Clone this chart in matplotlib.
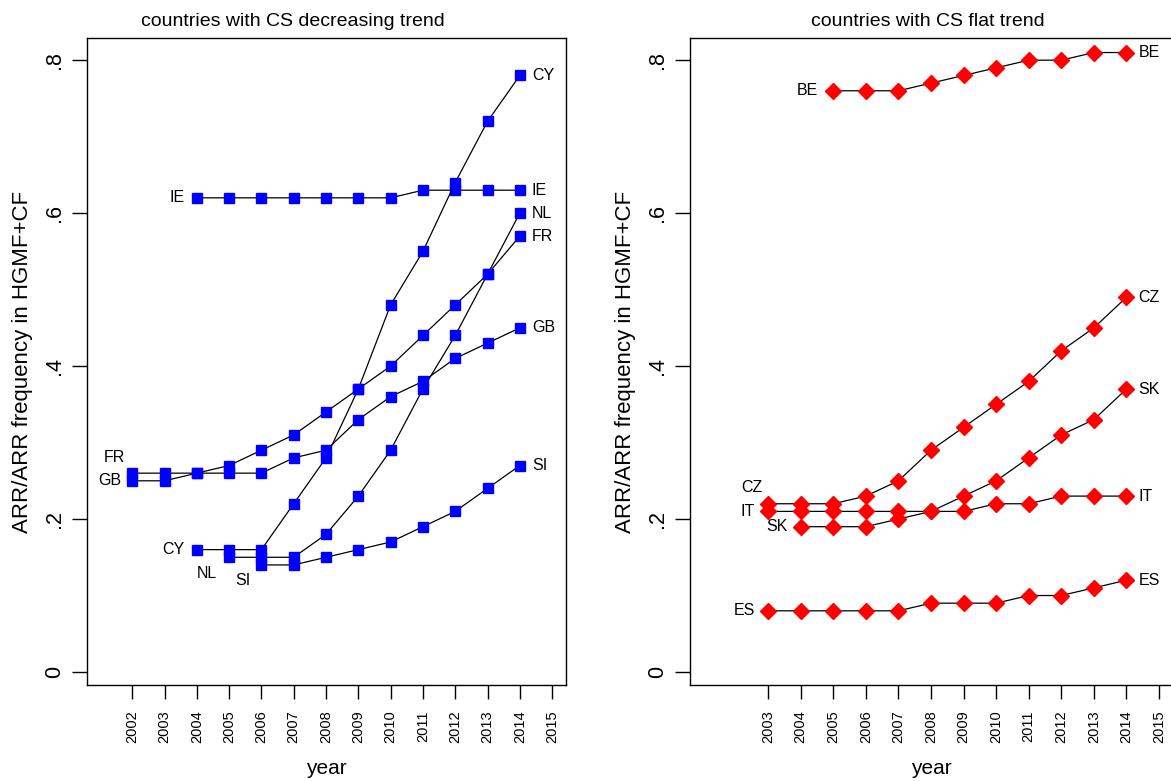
import matplotlib.pyplot as plt

plt.rcParams['font.family'] = ['Liberation Sans', 'DejaVu Sans']

# left panel: countries with decreasing trend
yrs_IE = [2004, 2005, 2006, 2007, 2008, 2009, 2010, 2011, 2012, 2013, 2014]
IE = [.62, .62, .62, .62, .62, .62, .62, .63, .63, .63, .63]
yrs_CY = [2004, 2005, 2006, 2007, 2008, 2009, 2010, 2011, 2012, 2013, 2014]
CY = [.16, .16, .16, .22, .28, .37, .48, .55, .64, .72, .78]
yrs_NL = [2005, 2006, 2007, 2008, 2009, 2010, 2011, 2012, 2013, 2014]
NL = [.15, .15, .15, .18, .23, .29, .37, .44, .52, .60]
yrs_SI = [2006, 2007, 2008, 2009, 2010, 2011, 2012, 2013, 2014]
SI = [.14, .14, .15, .16, .17, .19, .21, .24, .27]
yrs_FR = list(range(2002, 2015))
FR = [.26, .26, .26, .27, .29, .31, .34, .37, .40, .44, .48, .52, .57]
yrs_GB = list(range(2002, 2015))
GB = [.25, .25, .26, .26, .26, .28, .29, .33, .36, .38, .41, .43, .45]

# right panel: countries with flat trend
yrs_BE = list(range(2005, 2015))
BE = [.76, .76, .76, .77, .78, .79, .80, .80, .81, .81]
yrs_CZ = list(range(2003, 2015))
CZ = [.22, .22, .22, .23, .25, .29, .32, .35, .38, .42, .45, .49]
yrs_IT = list(range(2003, 2015))
IT = [.21, .21, .21, .21, .21, .21, .21, .22, .22, .23, .23, .23]
yrs_SK = list(range(2004, 2015))
SK = [.19, .19, .19, .20, .21, .23, .25, .28, .31, .33, .37]
yrs_ES = list(range(2003, 2015))
ES = [.08, .08, .08, .08, .08, .09, .09, .09, .10, .10, .11, .12]

yticks = [0, .2, .4, .6, .8]
ytick_labels = ['0', '.2', '.4', '.6', '.8']

# series: name, years, values, offset of first label (pixels)
left_series = [
    ('IE', yrs_IE, IE, (-12, 0)),
    ('CY', yrs_CY, CY, (-12, 0)),
    ('NL', yrs_NL, NL, (-12, -16)),
    ('SI', yrs_SI, SI, (-11, -16)),
    ('FR', yrs_FR, FR, (-7, 16)),
    ('GB', yrs_GB, GB, (-11, 0)),
]
right_series = [
    ('BE', yrs_BE, BE, (-15, 0)),
    ('CZ', yrs_CZ, CZ, (-6, 16)),
    ('IT', yrs_IT, IT, (-13, 0)),
    ('SK', yrs_SK, SK, (-13, 0)),
    ('ES', yrs_ES, ES, (-13, 0)),
]

W, H = 1171, 781
fig = plt.figure(figsize=(W / 100, H / 100), dpi=100)
ax1 = fig.add_axes([87 / W, (H - 685) / H, 479 / W, 647 / H])
ax2 = fig.add_axes([690 / W, (H - 685) / H, 483 / W, 647 / H])


def draw(ax, series, marker, color, ms, xticks, title, title_x):
    for name, x, y, off in series:
        ax.plot(x, y, color='black', lw=0.9, marker=marker, ms=ms,
                mfc=color, mec=color, zorder=3)
        ax.annotate(name, (x[0], y[0]), xytext=off, textcoords='offset pixels',
                    ha='right', va='center', fontsize=11.5)
        ax.annotate(name, (x[-1], y[-1]), xytext=(12, 0), textcoords='offset pixels',
                    ha='left', va='center', fontsize=11.5)
    ax.set_xlim(2000.6, 2015.43)
    ax.set_ylim(-0.017, 0.829)
    ax.set_xticks(xticks)
    ax.set_xticklabels([str(v) for v in xticks], rotation=90, fontsize=10.5)
    ax.set_yticks(yticks)
    ax.set_yticklabels(ytick_labels, rotation=90, va='center', fontsize=15.5)
    ax.tick_params(axis='x', length=10, width=1, pad=8)
    ax.tick_params(axis='y', length=11, width=1, pad=5)
    for s in ax.spines.values():
        s.set_linewidth(1)
    ax.set_xlabel('year', fontsize=15, labelpad=12)
    ax.set_ylabel('ARR/ARR frequency in HGMF+CF', fontsize=16, labelpad=8)
    fig.text(title_x / W, 1 - 21 / H, title, ha='center', va='center', fontsize=14)


draw(ax1, left_series, 's', '#0000ff', 7.5, list(range(2002, 2016)),
     'countries with CS decreasing trend', 293)
draw(ax2, right_series, 'D', '#ff0000', 8, list(range(2003, 2016)),
     'countries with CS flat trend', 928)

fig.savefig('out.png', dpi=100)
